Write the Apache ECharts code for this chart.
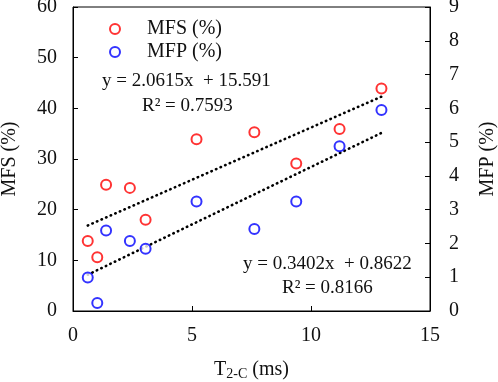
<!DOCTYPE html>
<html><head><meta charset="utf-8">
<script src="https://cdn.jsdelivr.net/npm/echarts@6/dist/echarts.min.js"></script>
<style>html,body{margin:0;padding:0;background:#fff}#c{width:498px;height:382px}</style>
</head><body><div id="c"></div>
<script>
const t2c = [0.62, 1.02, 1.39, 2.39, 3.05, 5.19, 7.62, 9.38, 11.2, 12.96];
const mfs = [13.8, 10.6, 24.9, 24.3, 18.0, 33.9, 35.3, 29.1, 35.9, 43.9];
const mfp = [0.99, 0.24, 2.38, 2.07, 1.84, 3.24, 2.43, 3.24, 4.88, 5.95];
const fitMFS = {slope: 2.0615, intercept: 15.591, r2: '0.7593'};
const fitMFP = {slope: 0.3402, intercept: 0.8622, r2: '0.8166'};
const xTicks = [0, 5, 10, 15];

const FONT = '"Liberation Serif", "Times New Roman", serif';
const xmin = Math.min(...t2c), xmax = Math.max(...t2c);
const line = f => [[xmin, f.slope*xmin+f.intercept],[xmax, f.slope*xmax+f.intercept]];
const pts = ys => t2c.map((x,i)=>[x, ys[i]]);

const chart = echarts.init(document.getElementById('c'));
const axisCommon = {
  axisLine:{show:true, lineStyle:{color:'#000', width:1}},
  axisTick:{show:true, inside:true, length:5, lineStyle:{color:'#000'}},
  splitLine:{show:false},
  nameTextStyle:{color:'#111', fontFamily:FONT, fontSize:20}
};
chart.setOption({
  animation:false,
  grid:{left:73, right:68, top:7, bottom:71, show:true, borderColor:'#000', borderWidth:1,
    containLabel:false, outerBoundsMode:'none'},
  legend:{
    orient:'vertical', left:104, top:14, itemGap:3, itemWidth:20, itemHeight:10,
    textStyle:{fontFamily:FONT, fontSize:20, color:'#111', padding:[0,0,0,17]},
    data:['MFS (%)','MFP (%)']
  },
  xAxis:Object.assign({}, axisCommon, {
    type:'value', min:0, max:15, interval:5,
    name:'{a|T}{s|2-C}{a| (ms)}', nameLocation:'middle', nameGap:47,
    nameTextStyle:{rich:{a:{fontFamily:FONT, fontSize:20, color:'#111'}, s:{fontFamily:FONT, fontSize:14, color:'#111', padding:[9,0,0,0]}}},
    axisLabel:{color:'#111', fontFamily:FONT, fontSize:20, margin:15, formatter:v=>xTicks.includes(v)?String(v):''}
  }),
  yAxis:[
    Object.assign({}, axisCommon, {type:'value', min:0, max:60, interval:10, position:'left',
      name:'MFS (%)', nameLocation:'middle', nameGap:53,
      axisLabel:{color:'#111', fontFamily:FONT, fontSize:20, margin:16}}),
    Object.assign({}, axisCommon, {type:'value', min:0, max:9, interval:1, position:'right',
      name:'MFP (%)', nameLocation:'middle', nameGap:48, nameRotate:90,
      axisLabel:{color:'#111', fontFamily:FONT, fontSize:20, margin:19}})
  ],
  series:[
    {name:'MFS (%)', type:'scatter', yAxisIndex:0, data:pts(mfs), symbol:'emptyCircle', symbolSize:10,
      itemStyle:{color:'#ff0000', borderColor:'#ff0000', borderWidth:1.6}, z:3},
    {name:'MFP (%)', type:'scatter', yAxisIndex:1, data:pts(mfp), symbol:'emptyCircle', symbolSize:10,
      itemStyle:{color:'#0000ff', borderColor:'#0000ff', borderWidth:1.6}, z:3},
    {name:'fitMFS', type:'line', yAxisIndex:0, data:line(fitMFS), symbol:'none',
      lineStyle:{color:'#000', width:2.6, type:[0.5,4.5], cap:'round'}, z:2},
    {name:'fitMFP', type:'line', yAxisIndex:1, data:line(fitMFP), symbol:'none',
      lineStyle:{color:'#000', width:2.6, type:[0.5,4.5], cap:'round'}, z:2}
  ],
  graphic:[
    {type:'text', left:102, top:72, style:{text:'y = '+fitMFS.slope+'x  + '+fitMFS.intercept, font:'19px '+FONT, fill:'#111'}},
    {type:'text', left:142, top:97, style:{text:'R² = '+fitMFS.r2, font:'19px '+FONT, fill:'#111'}},
    {type:'text', left:243, top:255, style:{text:'y = '+fitMFP.slope+'x  + '+fitMFP.intercept, font:'19px '+FONT, fill:'#111'}},
    {type:'text', left:282, top:279, style:{text:'R² = '+fitMFP.r2, font:'19px '+FONT, fill:'#111'}}
  ]
});
</script></body></html>
